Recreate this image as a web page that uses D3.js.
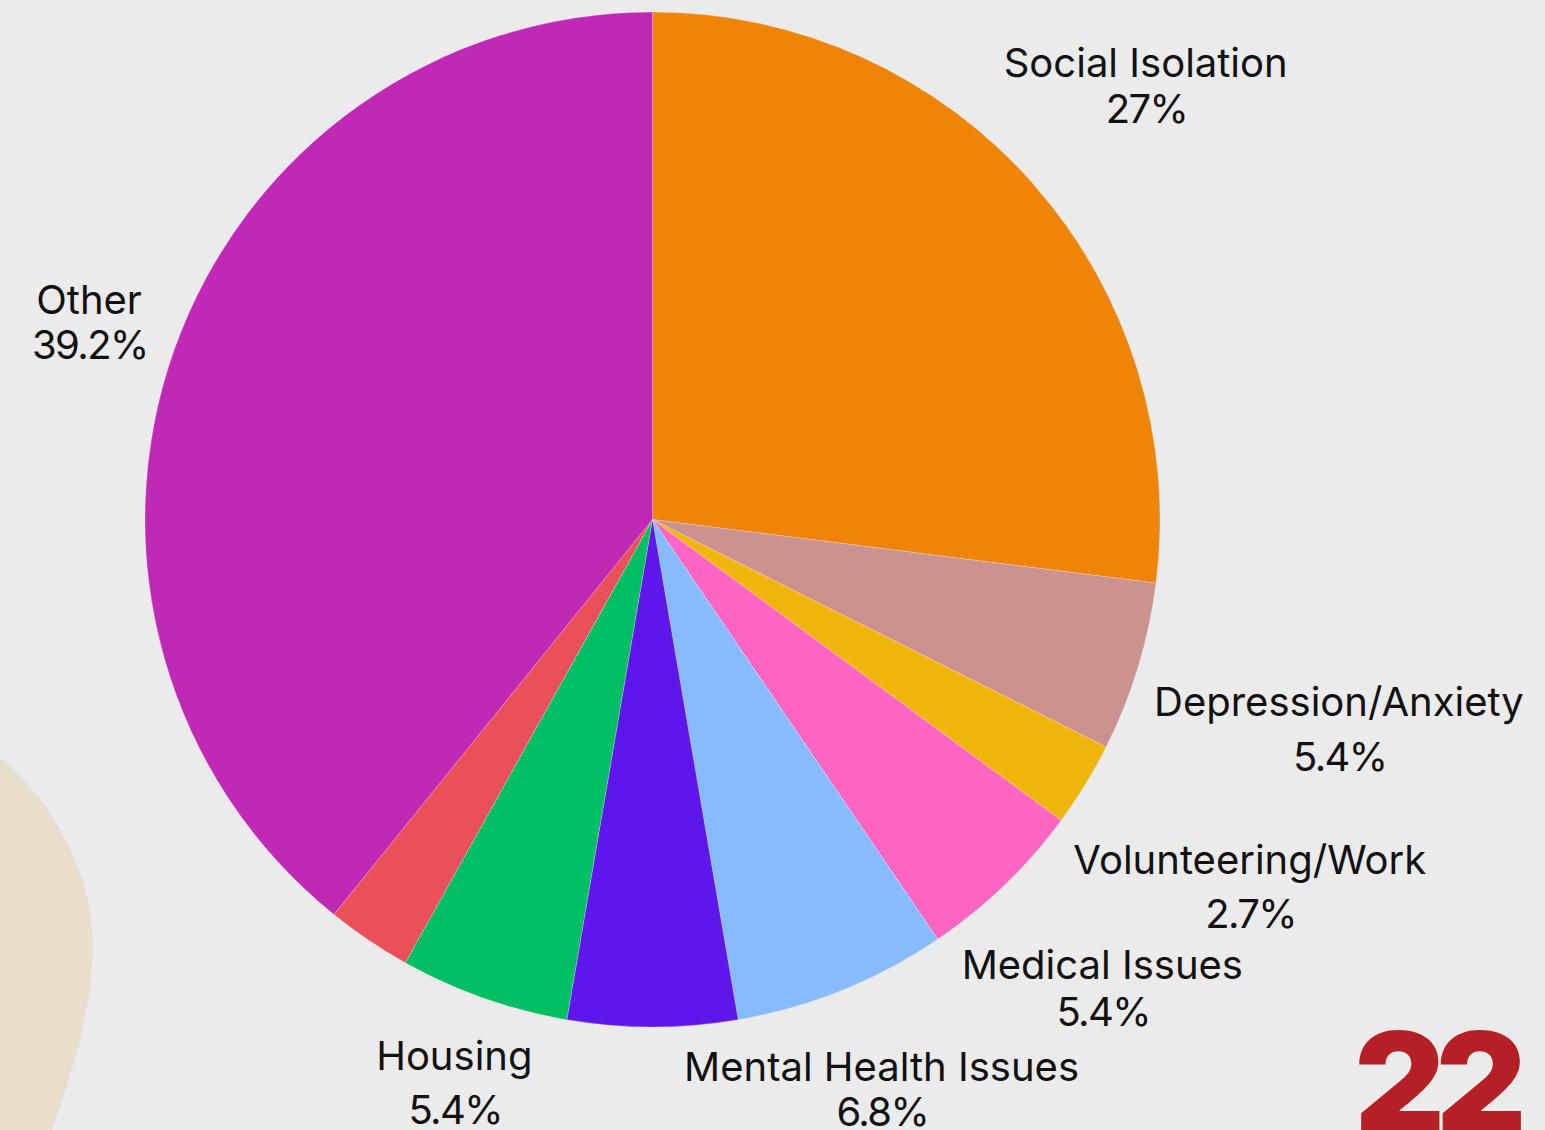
<!DOCTYPE html>
<html>
<head>
<meta charset="utf-8">
<script src="https://cdn.jsdelivr.net/npm/d3@7"></script>
<style>
  html, body { margin: 0; padding: 0; background: #ebebeb; }
  svg { display: block; }
</style>
</head>
<body>
<svg id="chart" width="1545" height="1130"></svg>
<script>
// ---- data ----
const categories = ["Social Isolation", "Depression/Anxiety", "Volunteering/Work", "Medical Issues",
  "Mental Health Issues", "Unlabeled A", "Housing", "Unlabeled B", "Other"];
const values = [27, 5.4, 2.7, 5.4, 6.8, 5.4, 5.4, 2.7, 39.2];
const valueLabels = ["27%", "5.4%", "2.7%", "5.4%", "6.8%", "5.4%", "5.4%", "2.7%", "39.2%"];
const showLabel = [true, true, true, true, true, false, true, false, true];
const colors = ["#ee8508", "#cc928f", "#f0b50b", "#ff66c4", "#87bbff", "#5e17eb", "#00bf63", "#eb505a", "#c029b6"];

// ---- layout ----
const W = 1545, H = 1130;
const cx = 652.5, cy = 519.5, R = 507.5;
const labelExtra = [150, 210, 193, 141, 105, 100, 88, 100, 90]; // distance beyond rim to label centre
const lineGap = [46, 55, 54, 47, 45, 46, 54, 46, 45];
const capH = 31;

const svg = d3.select("#chart");
svg.append("rect").attr("width", W).attr("height", H).attr("fill", "#ebebeb");

// decorative blob
svg.append("path")
  .attr("d", "M0,758 C40,790 80,850 90,910 C100,980 80,1050 52,1130 L0,1130 Z")
  .attr("fill", "#e9ddcc");

const rows = categories.map((c, i) => ({ name: c, value: values[i], pct: valueLabels[i], show: showLabel[i], color: colors[i], i }));

const pie = d3.pie().value(d => d.value).sort(null);
const arc = d3.arc().innerRadius(0).outerRadius(R);
const arcs = pie(rows);

const g = svg.append("g").attr("transform", `translate(${cx},${cy})`);
g.selectAll("path.slice").data(arcs).join("path")
  .attr("class", "slice")
  .attr("d", arc)
  .attr("fill", d => d.data.color)
  .attr("stroke", "rgba(255,255,255,0.35)")
  .attr("stroke-width", 0.6);

const font = "Inter, 'Noto Sans', sans-serif";
const lbl = g.selectAll("g.lbl").data(arcs.filter(d => d.data.show)).join("g").attr("class", "lbl");
lbl.each(function(d) {
  const a = (d.startAngle + d.endAngle) / 2;
  const r = R + labelExtra[d.data.i];
  const x = r * Math.sin(a), y = -r * Math.cos(a);
  const gap = lineGap[d.data.i];
  const b1 = y - gap / 2 + capH / 2;
  const b2 = y + gap / 2 + capH / 2;
  const sel = d3.select(this);
  sel.append("text").attr("x", x).attr("y", b1).attr("text-anchor", "middle")
    .attr("font-family", font).attr("font-size", 40).attr("fill", "#111")
    .text(d.data.name);
  sel.append("text").attr("x", x + 0.8).attr("y", b2).attr("text-anchor", "middle")
    .attr("font-family", font).attr("font-size", 40).attr("fill", "#111")
    .attr("letter-spacing", -1.6)
    .text(d.data.pct);
});

// page number
svg.append("text")
  .attr("x", 1436).attr("y", 1133)
  .attr("text-anchor", "middle")
  .attr("font-family", "Inter, 'DejaVu Sans', sans-serif")
  .attr("font-weight", 900)
  .attr("font-size", 140)
  .attr("letter-spacing", -9)
  .attr("fill", "#b52025")
  .text("22");
</script>
</body>
</html>
